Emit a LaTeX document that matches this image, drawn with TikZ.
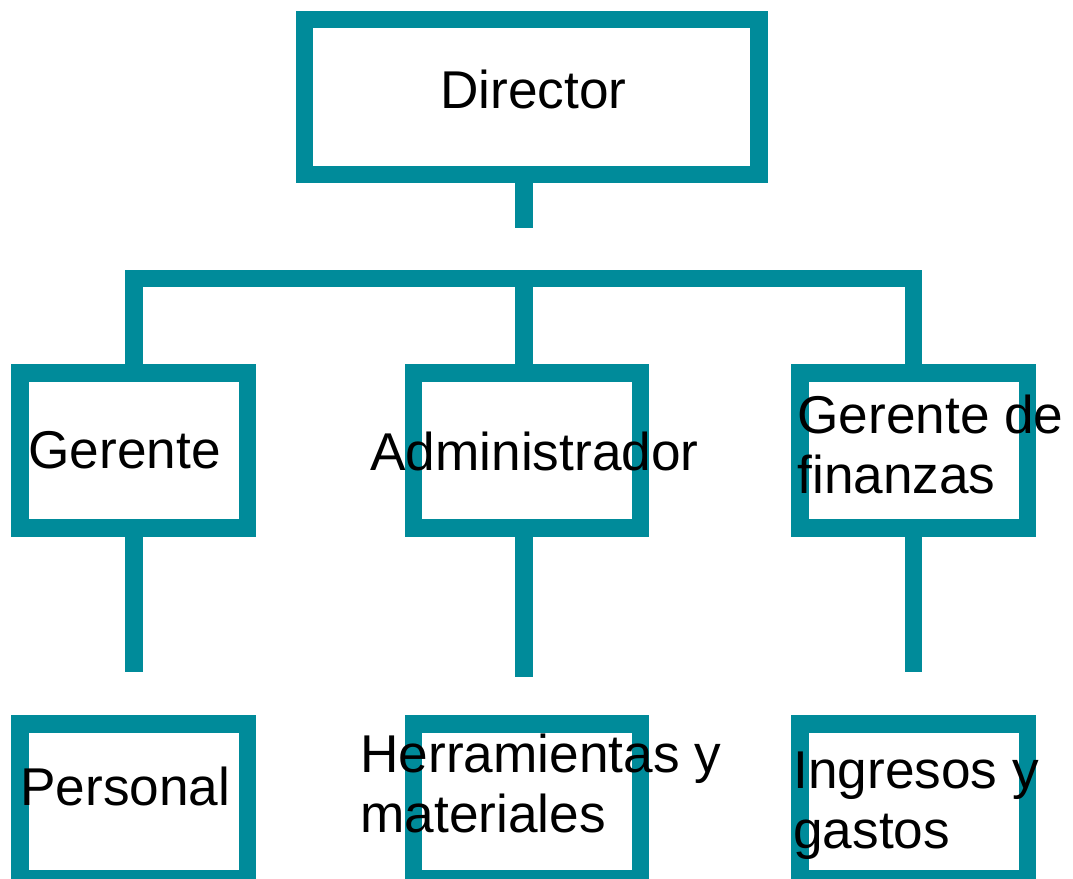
\documentclass[tikz,border=0pt]{standalone}
\usepackage{fontspec}
\setmainfont{Liberation Sans}
\usepackage{tikz}
\usetikzlibrary{calc}
\usepackage{xcolor}
\definecolor{orgLine}{RGB}{0, 139, 154}

\tikzset{
  box/.style={draw=orgLine, line width=8.75pt, minimum width=113.7pt,
    minimum height=77.5pt, inner sep=0pt},
  link/.style={draw=orgLine, line width=8.75pt, line join=miter},
  lbl/.style={anchor=base west, align=left, inner sep=0pt,
    font=\fontsize{26.6}{30}\selectfont}
}

\begin{document}
\begin{tikzpicture}[x=0.5pt, y=-0.5pt]
  \clip (0,0) rectangle (1073,879);

  \node[box, minimum width=227.3pt] (dir) at (531.6,97) {};
  \node[box] (ger) at (133.8,450.5) {};
  \node[box] (adm) at (527,450.5) {};
  \node[box] (fin) at (913.7,450.5) {};
  \node[box] (per) at (133.8,801.5) {};
  \node[box] (her) at (527,801.5) {};
  \node[box] (ing) at (913.7,801.5) {};

  \coordinate (bar) at (524,278.7);
  \coordinate (dirEnd) at (524,227.7);
  \coordinate (gerEnd) at (133.8,671.7);
  \coordinate (admEnd) at (524,677);
  \coordinate (finEnd) at (913.7,671.7);

  % Stems and bar
  \draw[link] (dir.south -| dirEnd) -- (dirEnd);
  \draw[link] (ger.north) -- (ger.north |- bar) -- (fin.north |- bar) -- (fin.north);
  \draw[link] (adm.north -| bar) -- (bar);
  \draw[link] (ger.south) -- (gerEnd);
  \draw[link] (adm.south -| admEnd) -- (admEnd);
  \draw[link] (fin.south) -- (finEnd);

  % Labels (last line on the baseline)
  \node[lbl] (tDir) at (440,108.3) {Director};
  \node[lbl] (tGer) at (28,468.3) {Gerente};
  \node[lbl] (tAdm) at (370,470) {Administrador};
  \node[lbl] (tFin) at (797,493.3) {Gerente de\\finanzas};
  \node[lbl] (tPer) at (20,805.7) {Personal};
  \node[lbl] (tHer) at (360,832.3) {Herramientas y\\materiales};
  \node[lbl] (tIng) at (793,848.3) {Ingresos y\\gastos};
\end{tikzpicture}
\end{document}
